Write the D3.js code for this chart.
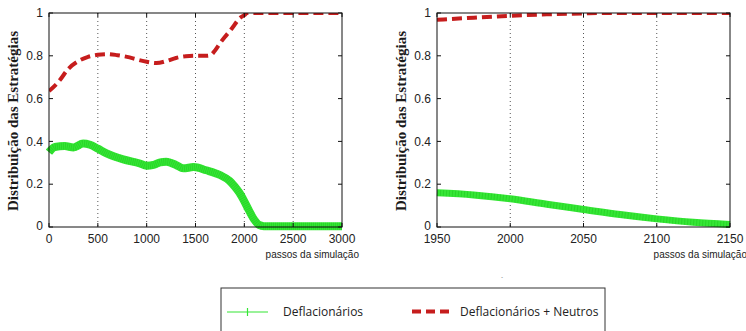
<!DOCTYPE html>
<html>
<head>
<meta charset="utf-8">
<script src="https://cdn.jsdelivr.net/npm/d3@7/dist/d3.min.js"></script>
<style>
  html, body { margin: 0; padding: 0; background: #fff; }
  svg { display: block; }
</style>
</head>
<body>
<svg id="chart" width="746" height="331"></svg>
<script>
// data
var leftRedSteps = [0, 100, 200, 300, 400, 500, 600, 700, 800, 900, 1000, 1100, 1200, 1300, 1400, 1500, 1600, 1650, 1700, 1750, 1800, 1850, 1900, 1950, 2000, 2030, 2500, 3000];
var leftRedValues = [0.635, 0.68, 0.74, 0.775, 0.795, 0.805, 0.808, 0.803, 0.795, 0.783, 0.772, 0.766, 0.775, 0.79, 0.798, 0.8, 0.8, 0.802, 0.825, 0.858, 0.888, 0.915, 0.945, 0.975, 0.99, 1, 1, 1];

var leftGreenSteps = [0, 60, 160, 250, 350, 420, 500, 590, 760, 930, 1000, 1070, 1140, 1200, 1300, 1375, 1480, 1610, 1750, 1850, 1900, 1950, 2000, 2050, 2100, 2150, 2200, 2500, 3000];
var leftGreenValues = [0.35, 0.374, 0.378, 0.372, 0.39, 0.384, 0.366, 0.344, 0.316, 0.297, 0.286, 0.29, 0.302, 0.305, 0.29, 0.274, 0.28, 0.265, 0.243, 0.215, 0.19, 0.16, 0.12, 0.075, 0.035, 0.01, 0.004, 0.004, 0.004];

var rightRedSteps = [1950, 1975, 2000, 2025, 2050, 2060, 2100, 2150];
var rightRedValues = [0.968, 0.978, 0.987, 0.994, 0.998, 1, 1, 1];

var rightGreenSteps = [1950, 1975, 2000, 2025, 2050, 2075, 2100, 2125, 2150];
var rightGreenValues = [0.16, 0.15, 0.132, 0.106, 0.082, 0.058, 0.038, 0.022, 0.012];

var leftXTicks = [0, 500, 1000, 1500, 2000, 2500, 3000];
var rightXTicks = [1950, 2000, 2050, 2100, 2150];
var yTicks = [0, 0.2, 0.4, 0.6, 0.8, 1];

var yLabel = 'Distribuição das Estratégias';
var xLabel = 'passos da simulação';
var legendNames = ['Deflacionários', 'Deflacionários + Neutros'];

// styles
var green = '#35e635', greenDark = '#22cc22', red = '#c61d1d';
var tickFont = '"Liberation Sans", Arial, sans-serif';

var svg = d3.select('#chart');

function zip(xs, ys) {
    return xs.map(function (x, i) { return { x: x, y: ys[i] }; });
}

function drawPanel(cfg) {
    var x = d3.scaleLinear().domain(cfg.xDomain).range([cfg.left, cfg.right]);
    var y = d3.scaleLinear().domain([0, 1]).range([cfg.bottom, cfg.top]);
    var g = svg.append('g');

    var clipId = 'clip' + cfg.id;
    svg.append('clipPath').attr('id', clipId)
        .append('rect')
        .attr('x', cfg.left).attr('y', cfg.top)
        .attr('width', cfg.right - cfg.left).attr('height', cfg.bottom - cfg.top);

    // vertical dotted grid
    g.selectAll('.grid').data(cfg.xTicks.slice(1, -1)).enter()
        .append('line')
        .attr('x1', function (d) { return x(d); }).attr('x2', function (d) { return x(d); })
        .attr('y1', cfg.top).attr('y2', cfg.bottom)
        .attr('stroke', '#555').attr('stroke-width', 1)
        .attr('stroke-dasharray', '1,3');

    var line = d3.line()
        .x(function (d) { return x(d.x); })
        .y(function (d) { return y(d.y); })
        .curve(d3.curveMonotoneX);

    // green (thick band of + markers)
    var gd = zip(cfg.greenX, cfg.greenY);
    g.append('path').datum(gd).attr('d', line)
        .attr('fill', 'none').attr('stroke', green)
        .attr('stroke-width', cfg.greenWidth).attr('stroke-linejoin', 'round');
    g.append('path').datum(gd).attr('d', line)
        .attr('fill', 'none').attr('stroke', greenDark)
        .attr('stroke-width', cfg.greenWidth - 1)
        .attr('stroke-dasharray', cfg.greenTex)
        .attr('opacity', 0.6);

    // red dashed
    g.append('path').datum(zip(cfg.redX, cfg.redY)).attr('d', line)
        .attr('clip-path', 'url(#' + clipId + ')')
        .attr('fill', 'none').attr('stroke', red)
        .attr('stroke-width', 4).attr('stroke-dasharray', '10,5');

    // frame
    g.append('rect')
        .attr('x', cfg.left).attr('y', cfg.top)
        .attr('width', cfg.right - cfg.left).attr('height', cfg.bottom - cfg.top)
        .attr('fill', 'none').attr('stroke', '#111').attr('stroke-width', 1);

    // inward ticks
    var tl = 4;
    g.selectAll('.yt').data(yTicks).enter().append('path')
        .attr('d', function (d) {
            return 'M' + cfg.left + ',' + y(d) + 'h' + tl + 'M' + cfg.right + ',' + y(d) + 'h' + (-tl);
        })
        .attr('stroke', '#111');
    g.selectAll('.xt').data(cfg.xTicks).enter().append('path')
        .attr('d', function (d) {
            return 'M' + x(d) + ',' + cfg.bottom + 'v' + (-tl) + 'M' + x(d) + ',' + cfg.top + 'v' + tl;
        })
        .attr('stroke', '#111');

    // tick labels
    g.selectAll('.yl').data(yTicks).enter().append('text')
        .attr('x', cfg.left - 6).attr('y', function (d) { return y(d) - (d === 0 ? 1 : 0); })
        .attr('dy', '0.35em').attr('text-anchor', 'end')
        .attr('font-family', tickFont).attr('font-size', 12).attr('fill', '#222')
        .text(function (d) { return d3.format('~g')(d); });
    g.selectAll('.xl').data(cfg.xTicks).enter().append('text')
        .attr('x', function (d) { return x(d); }).attr('y', cfg.bottom + 12)
        .attr('dy', '0.35em').attr('text-anchor', 'middle')
        .attr('font-family', tickFont).attr('font-size', 12).attr('fill', '#222')
        .text(function (d) { return d; });

    // axis labels
    g.append('text')
        .attr('x', cfg.right + 17).attr('y', cfg.bottom + 31)
        .attr('text-anchor', 'end')
        .attr('font-family', tickFont).attr('font-size', 10).attr('fill', '#222')
        .text(xLabel);
    g.append('text')
        .attr('transform', 'translate(' + cfg.yLabelX + ',' + ((cfg.top + cfg.bottom) / 2 + 1) + ') rotate(-90)')
        .attr('text-anchor', 'middle')
        .attr('font-family', '"Liberation Serif", "Times New Roman", serif')
        .attr('font-weight', 'bold').attr('font-size', 15).attr('fill', '#1a1a1a')
        .text(yLabel);
}

drawPanel({
    id: 'L', left: 49, right: 342, top: 13, bottom: 227, yLabelX: 18,
    xDomain: [0, 3000], xTicks: leftXTicks,
    redX: leftRedSteps, redY: leftRedValues,
    greenX: leftGreenSteps, greenY: leftGreenValues,
    greenWidth: 8, greenTex: '1,1'
});
drawPanel({
    id: 'R', left: 437, right: 730, top: 13, bottom: 227, yLabelX: 406,
    xDomain: [1950, 2150], xTicks: rightXTicks,
    redX: rightRedSteps, redY: rightRedValues,
    greenX: rightGreenSteps, greenY: rightGreenValues,
    greenWidth: 7, greenTex: '1,2'
});

// legend
var lg = svg.append('g');
lg.append('rect')
    .attr('x', 221).attr('y', 288).attr('width', 384).attr('height', 60)
    .attr('fill', '#fff').attr('stroke', '#333').attr('stroke-width', 1);
lg.append('line').attr('x1', 227).attr('x2', 268).attr('y1', 312).attr('y2', 312)
    .attr('stroke', green).attr('stroke-width', 1.2);
lg.append('line').attr('x1', 247.5).attr('x2', 247.5).attr('y1', 308).attr('y2', 316)
    .attr('stroke', green).attr('stroke-width', 1.2);
lg.append('line').attr('x1', 412).attr('x2', 449).attr('y1', 311.5).attr('y2', 311.5)
    .attr('stroke', red).attr('stroke-width', 4).attr('stroke-dasharray', '9,5');
lg.selectAll('.lt').data(legendNames).enter().append('text')
    .attr('x', function (d, i) { return i === 0 ? 283 : 460; })
    .attr('y', 312).attr('dy', '0.35em')
    .attr('font-family', '"Open Sans", sans-serif').attr('font-size', 12).attr('fill', '#222')
    .text(function (d) { return d; });
lg.append('text').attr('x', 501).attr('y', 282)
    .attr('font-family', tickFont).attr('font-size', 8).attr('fill', '#555')
    .text('´');
</script>
</body>
</html>
